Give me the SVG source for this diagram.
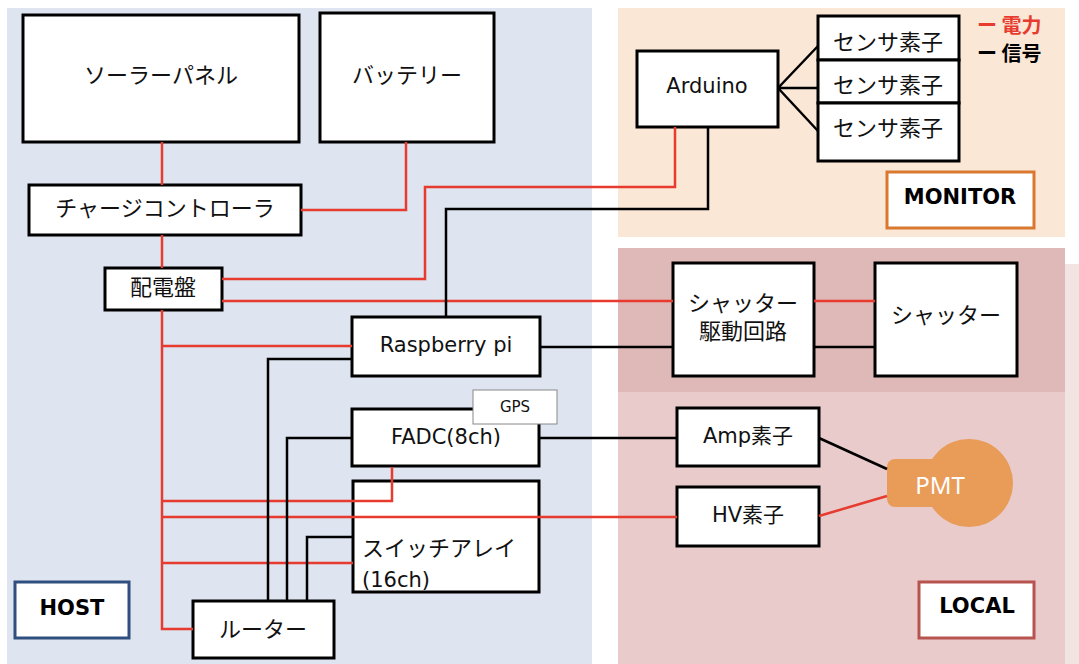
<svg xmlns="http://www.w3.org/2000/svg" width="1079" height="664" viewBox="0 0 1079 664">
<style>
.box{fill:#fff;stroke:#000;stroke-width:3}
.t{font-family:"DejaVu Sans","Noto Sans CJK JP",sans-serif;font-size:21px;fill:#111;text-anchor:middle;dominant-baseline:central}
.j{font-size:22px}
.lb{font-family:"DejaVu Sans","Noto Sans CJK JP",sans-serif;font-size:21px;font-weight:bold;fill:#000;text-anchor:middle;dominant-baseline:central}
.lg{font-family:"Noto Sans CJK JP",sans-serif;font-size:20px;font-weight:bold;text-anchor:start;dominant-baseline:central}
.pw{fill:none;stroke:#e63b2e;stroke-width:2.5}
.sg{fill:none;stroke:#000;stroke-width:2.5}
</style>
<rect width="1079" height="664" fill="#fff"/>
<g id="regions">
<rect x="7" y="8" width="585" height="656" fill="#dee5f0"/>
<rect x="618" y="8" width="447" height="229" fill="#fae7d6"/>
<rect x="1065" y="264" width="14" height="400" fill="#f3e4e4"/>
<rect x="618" y="248" width="447" height="144" fill="#dfb9b8"/>
<rect x="618" y="392" width="447" height="272" fill="#e8cbca"/>
</g>
<g id="solar"><rect class="box" x="23" y="15" width="276" height="127"/><text class="t j" x="161" y="75">ソーラーパネル</text></g>
<g id="battery"><rect class="box" x="320" y="13" width="174" height="129"/><text class="t j" x="407" y="75">バッテリー</text></g>
<g id="charge"><rect class="box" x="29" y="185" width="272" height="50"/><text class="t j" x="165" y="208">チャージコントローラ</text></g>
<g id="panel"><rect class="box" x="105" y="268" width="117" height="42"/><text class="t j" x="163" y="287">配電盤</text></g>
<g id="rpi"><rect class="box" x="352" y="317" width="188" height="59"/><text class="t" x="446" y="345">Raspberry pi</text></g>
<g id="fadc"><rect class="box" x="352" y="409" width="187" height="57"/><text class="t" x="446" y="437">FADC(8ch)</text></g>
<g id="gps"><rect x="473" y="390" width="84" height="34" fill="#fff" stroke="#888" stroke-width="1"/><text class="t" x="515" y="407" style="font-size:15px">GPS</text></g>
<g id="switch"><rect class="box" x="353" y="481" width="186" height="111"/><text class="t j" x="362" y="548" style="text-anchor:start">スイッチアレイ</text><text class="t" x="362" y="580" style="text-anchor:start">(16ch)</text></g>
<g id="router"><rect class="box" x="193" y="601" width="141" height="57"/><text class="t j" x="263" y="629">ルーター</text></g>
<g id="arduino"><rect class="box" x="637" y="51" width="141" height="76"/><text class="t" x="707" y="86">Arduino</text></g>
<g id="sensor1"><rect class="box" x="818" y="16" width="141" height="44"/><text class="t j" x="888" y="42">センサ素子</text></g>
<g id="sensor2"><rect class="box" x="818" y="60" width="141" height="43"/><text class="t j" x="888" y="85">センサ素子</text></g>
<g id="sensor3"><rect class="box" x="818" y="103" width="141" height="58"/><text class="t j" x="888" y="128">センサ素子</text></g>
<g id="shutterdrv"><rect class="box" x="673" y="263" width="141" height="113"/><text class="t j" x="743" y="303">シャッター</text><text class="t j" x="743" y="331">駆動回路</text></g>
<g id="shutter"><rect class="box" x="875" y="263" width="142" height="113"/><text class="t j" x="946" y="315">シャッター</text></g>
<g id="amp"><rect class="box" x="677" y="408" width="142" height="58"/><text class="t" x="748" y="436">Amp素子</text></g>
<g id="hv"><rect class="box" x="677" y="487" width="142" height="59"/><text class="t" x="748" y="515">HV素子</text></g>
<g id="pmt"><circle cx="969" cy="483" r="44" fill="#e99b58"/><rect x="887" y="459" width="70" height="48" rx="8" fill="#e99b58"/><text class="t" x="940" y="484" style="fill:#fff;font-family:'Noto Sans','DejaVu Sans',sans-serif;font-size:24px">PMT</text></g>
<g id="connectors">
<path class="pw" d="M162 142V185"/>
<path class="pw" d="M301 210H406V142"/>
<path class="pw" d="M162 235V268"/>
<path class="pw" d="M162 310V629H193"/>
<path class="pw" d="M222 279H425V187H675V127"/>
<path class="pw" d="M222 301H673"/>
<path class="pw" d="M162 346H352"/>
<path class="pw" d="M162 501H392V467"/>
<path class="pw" d="M162 517H677"/>
<path class="pw" d="M162 563H353"/>
<path class="pw" d="M814 301H875"/>
<path class="pw" d="M819 516L887 496"/>
<path class="sg" d="M446 317V209H708V127"/>
<path class="sg" d="M540 347H673"/>
<path class="sg" d="M814 347H875"/>
<path class="sg" d="M539 438H677"/>
<path class="sg" d="M819 438L887 469"/>
<path class="sg" d="M268 601V359H352"/>
<path class="sg" d="M287 601V438H352"/>
<path class="sg" d="M307 601V537H353"/>
<path class="sg" d="M778 88L818 46M778 88H818M778 88L818 131"/>
</g>
<g id="legend">
<text class="lg" x="977" y="24" fill="#e63b2e">ー 電力</text>
<text class="lg" x="977" y="52" fill="#000">ー 信号</text>
</g>
<g id="monitor-label"><rect x="887" y="172" width="147" height="56" fill="#fff" stroke="#d9782f" stroke-width="3"/><text class="lb" x="960" y="197">MONITOR</text></g>
<g id="host-label"><rect x="15" y="582" width="114" height="56" fill="#fff" stroke="#2f4f7f" stroke-width="3"/><text class="lb" x="72" y="608">HOST</text></g>
<g id="local-label"><rect x="919" y="582" width="115" height="56" fill="#fff" stroke="#b85450" stroke-width="3"/><text class="lb" x="977" y="606">LOCAL</text></g>
</svg>
